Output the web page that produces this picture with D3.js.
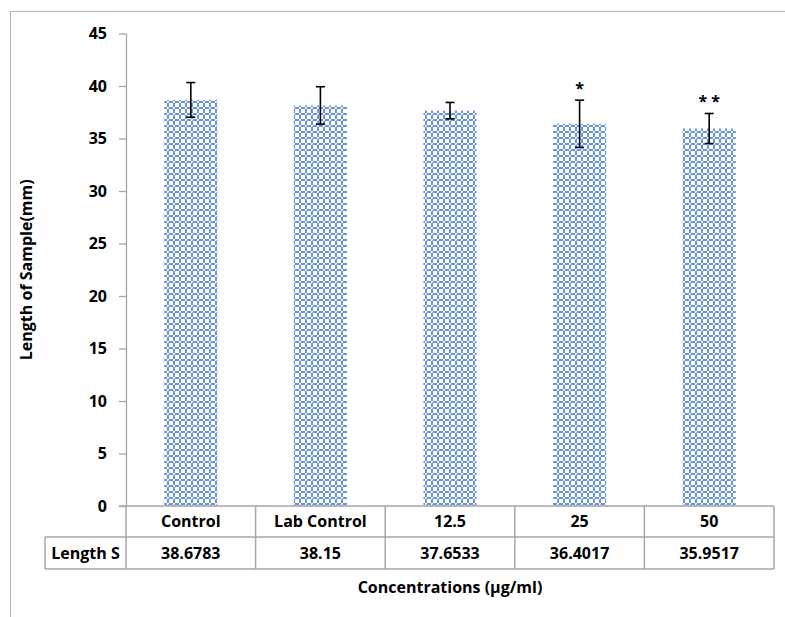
<!DOCTYPE html>
<html><head><meta charset="utf-8">
<script src="https://cdn.jsdelivr.net/npm/d3@7"></script>
<style>body{margin:0;background:#fff}svg text{font-family:"Open Sans",Lato,sans-serif;font-weight:bold;fill:#000}</style>
</head><body><svg id="c" width="785" height="617"></svg>
<script>
const categories = ["Control","Lab Control","12.5","25","50"];
const values = [38.6783, 38.15, 37.6533, 36.4017, 35.9517];
const errors = [1.65, 1.78, 0.78, 2.25, 1.43];
const tableLabels = ["38.6783","38.15","37.6533","36.4017","35.9517"];
const significance = ["","","","*","**"];
const yTicks = [0,5,10,15,20,25,30,35,40,45];
const seriesName = "Length S";

const svg = d3.select("#c");
const m = {left:126, right:774, top:33.5, bottom:506};
const x = d3.scaleBand().domain(categories).range([m.left, m.right]).paddingInner(0.59).paddingOuter(0.295);
const y = d3.scaleLinear().domain([0,45]).range([m.bottom, m.top]);
const colX = d => m.left + categories.indexOf(d)*((m.right-m.left)/categories.length);
const colW = (m.right-m.left)/categories.length;
const grid = "#a6a6a6";
const fs = "16px";

// outer frame
svg.append("path").attr("d","M10.5,617 V11.5 H785").attr("fill","none").attr("stroke","#b4b4b4").attr("stroke-width",1.2);

// pattern
const defs = svg.append("defs");
const pat = defs.append("pattern").attr("id","p").attr("patternUnits","userSpaceOnUse").attr("width",6).attr("height",6);
pat.append("rect").attr("width",6).attr("height",6).attr("fill","#ffffff");
pat.append("path").attr("d","M1,0h4v1h-4z M0,1h1v4h-1z M5,1h1v4h-1z M1,5h4v1h-4z").attr("fill","#6a95d9");
pat.append("rect").attr("x",0).attr("y",0).attr("width",1).attr("height",1).attr("fill","#b8cdee");

// y axis
const ya = svg.append("g").attr("transform",`translate(${m.left},0)`)
  .call(d3.axisLeft(y).tickValues(yTicks).tickSize(7).tickPadding(12).tickFormat(d3.format("d")));
ya.select(".domain").attr("stroke",grid).attr("stroke-width",1.3).attr("d",`M0.5,${m.top}V${m.bottom}`);
ya.selectAll(".tick line").attr("stroke",grid).attr("stroke-width",1.3);
ya.selectAll(".tick text").style("font-size",fs);

// bars
svg.append("g").selectAll("rect").data(categories).join("rect")
  .attr("x",d=>x(d)).attr("width",x.bandwidth())
  .attr("y",(d,i)=>y(values[i])).attr("height",(d,i)=>y(0)-y(values[i]))
  .attr("fill","url(#p)");

// error bars
const eb = svg.append("g").attr("stroke","#000").attr("stroke-width",1.6);
categories.forEach((c,i)=>{
  const cx = x(c)+x.bandwidth()/2;
  const t = y(values[i]+errors[i]), b = y(values[i]-errors[i]);
  eb.append("line").attr("x1",cx).attr("x2",cx).attr("y1",t).attr("y2",b);
  eb.append("line").attr("x1",cx-4.5).attr("x2",cx+4.5).attr("y1",t).attr("y2",t);
  eb.append("line").attr("x1",cx-4.5).attr("x2",cx+4.5).attr("y1",b).attr("y2",b);
  if (significance[i]) {
    const ls = significance[i].length > 1 ? 4 : 0;
    svg.append("text").attr("x",cx + ls/2).attr("y",t-6).attr("text-anchor","middle")
      .style("font-size","16px").style("letter-spacing", ls + "px").text(significance[i]);
  }
});

// table
const r1 = m.bottom, r2 = 537, r3 = 569, tl = 45;
const tg = svg.append("g").attr("stroke",grid).attr("stroke-width",1.5).attr("fill","none");
tg.append("line").attr("x1",119).attr("x2",m.right).attr("y1",r1).attr("y2",r1);
tg.append("line").attr("x1",tl).attr("x2",m.right).attr("y1",r2).attr("y2",r2);
tg.append("line").attr("x1",tl).attr("x2",m.right).attr("y1",r3).attr("y2",r3);
tg.append("line").attr("x1",tl).attr("x2",tl).attr("y1",r2).attr("y2",r3);
d3.range(categories.length+1).forEach(k=>{
  const xx = m.left + k*colW;
  tg.append("line").attr("x1",xx).attr("x2",xx).attr("y1",r1).attr("y2",r3);
});
categories.forEach((c,i)=>{
  const cx = colX(c)+colW/2;
  svg.append("text").attr("x",cx).attr("y",(r1+r2)/2).attr("dy","0.35em").attr("text-anchor","middle").style("font-size",fs).text(c);
  svg.append("text").attr("x",cx).attr("y",(r2+r3)/2).attr("dy","0.35em").attr("text-anchor","middle").style("font-size",fs).text(tableLabels[i]);
});
svg.append("text").attr("x",(tl+m.left)/2).attr("y",(r2+r3)/2).attr("dy","0.35em").attr("text-anchor","middle").style("font-size",fs).text(seriesName);

// axis titles
svg.append("text").attr("x",(m.left+m.right)/2).attr("y",587).attr("dy","0.35em").attr("text-anchor","middle").style("font-size","16px").text("Concentrations (µg/ml)");
svg.append("text").attr("transform",`translate(26,${(m.top+m.bottom)/2}) rotate(-90)`).attr("dy","0.35em").attr("text-anchor","middle").style("font-size","16px").text("Length of Sample(mm)");
</script></body></html>
